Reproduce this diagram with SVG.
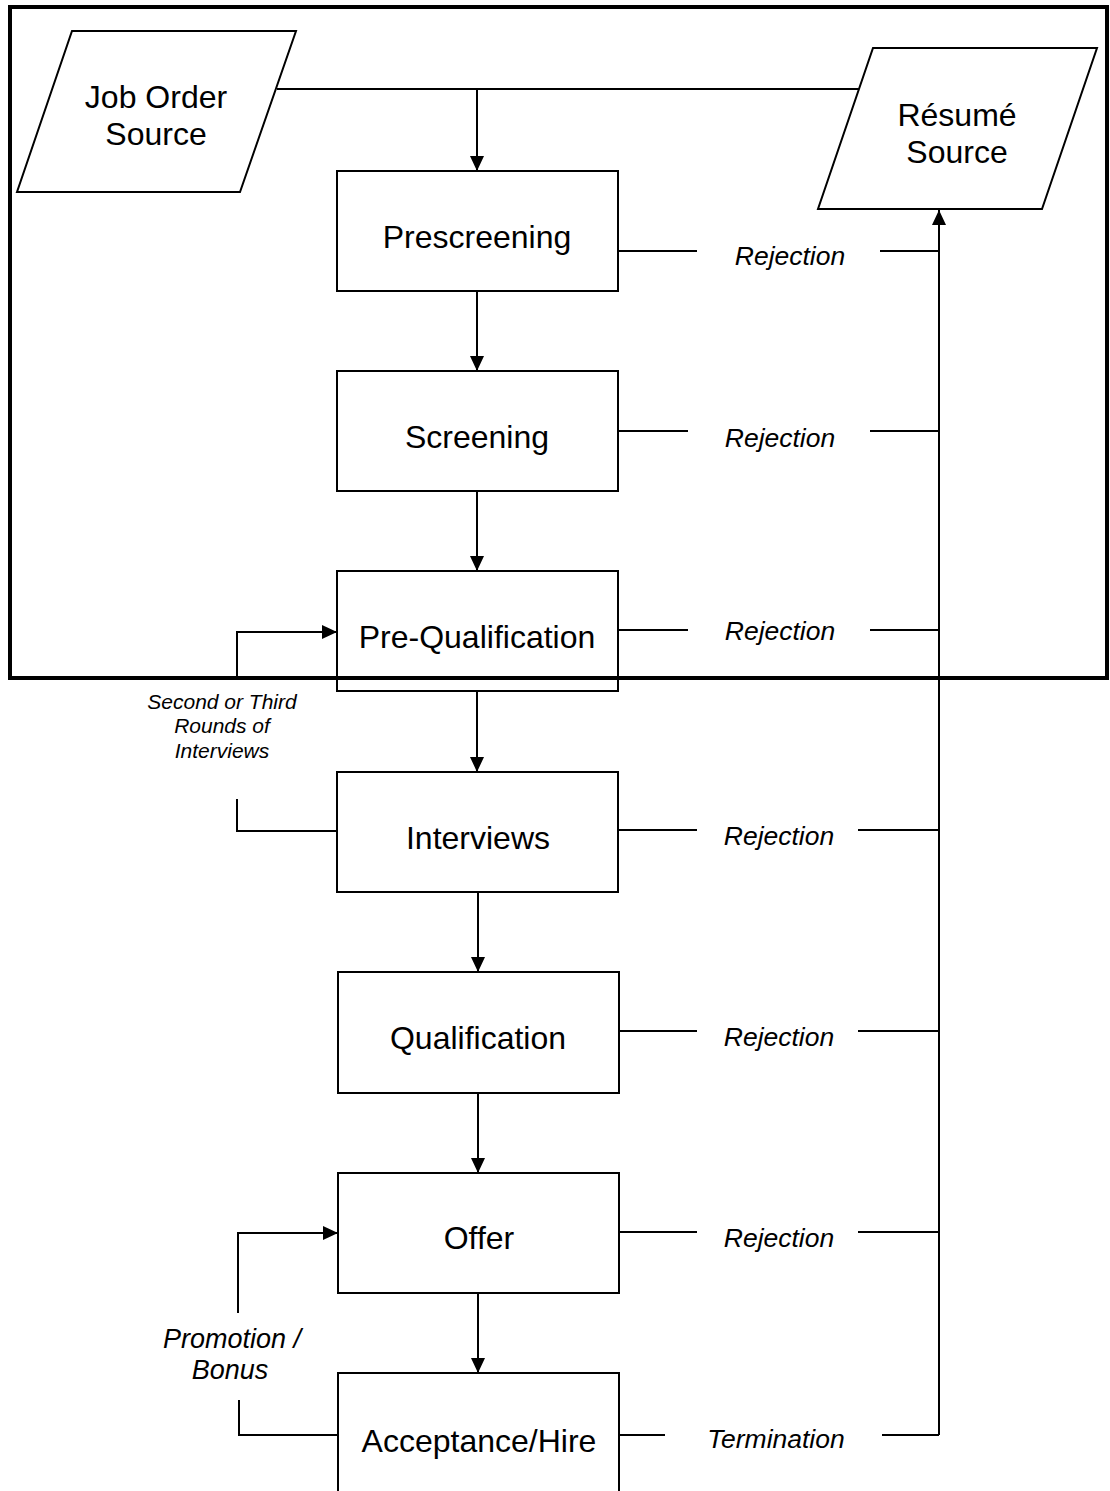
<svg xmlns="http://www.w3.org/2000/svg" width="1110" height="1491" viewBox="0 0 1110 1491">
<style>
.n{fill:#fff;stroke:#000;stroke-width:2}
.t{font-family:"Liberation Sans",Arial,sans-serif;font-size:32px;text-anchor:middle;dominant-baseline:central;fill:#000}
.i{font-family:"Liberation Sans",Arial,sans-serif;font-style:italic;font-size:26.5px;text-anchor:middle;dominant-baseline:central;fill:#000}
.s{font-size:21px}
.p{font-size:27px}
.c{fill:none;stroke:#000;stroke-width:2}
</style>
<defs>
<marker id="a" markerWidth="15" markerHeight="14" refX="15" refY="7" orient="auto" markerUnits="userSpaceOnUse">
<path d="M0,0 L15,7 L0,14 Z" fill="#000"/>
</marker>
</defs>
<rect width="1110" height="1491" fill="#fff"/>
<rect id="frame" x="10" y="7" width="1097" height="671" fill="none" stroke="#000" stroke-width="4"/>
<g id="connectors">
<path class="c" d="M277,89 H860"/>
<path class="c" d="M477,89 V171" marker-end="url(#a)"/>
<path class="c" d="M477,291 V371" marker-end="url(#a)"/>
<path class="c" d="M477,491 V571" marker-end="url(#a)"/>
<path class="c" d="M477,691 V772" marker-end="url(#a)"/>
<path class="c" d="M478,892 V972" marker-end="url(#a)"/>
<path class="c" d="M478,1093 V1173" marker-end="url(#a)"/>
<path class="c" d="M478,1293 V1373" marker-end="url(#a)"/>
<path class="c" d="M939,1435 V210" marker-end="url(#a)"/>
<path class="c" d="M618,251 H697 M880,251 H939"/>
<path class="c" d="M618,431 H688 M870,431 H939"/>
<path class="c" d="M618,630 H688 M870,630 H939"/>
<path class="c" d="M618,830 H697 M858,830 H939"/>
<path class="c" d="M618,1031 H697 M858,1031 H939"/>
<path class="c" d="M619,1232 H697 M858,1232 H939"/>
<path class="c" d="M620,1435 H665 M882,1435 H939"/>
<path class="c" d="M237,676 V632 H337" marker-end="url(#a)"/>
<path class="c" d="M337,831 H237 V799"/>
<path class="c" d="M238,1313 V1233 H338" marker-end="url(#a)"/>
<path class="c" d="M338,1435 H239 V1400"/>
<text class="i" x="790" y="256">Rejection</text>
<text class="i" x="780" y="438">Rejection</text>
<text class="i" x="780" y="631">Rejection</text>
<text class="i" x="779" y="836">Rejection</text>
<text class="i" x="779" y="1037">Rejection</text>
<text class="i" x="779" y="1238">Rejection</text>
<text class="i" x="776" y="1439">Termination</text>
<text class="i s" x="222" y="701">Second or Third</text>
<text class="i s" x="222" y="725">Rounds of</text>
<text class="i s" x="222" y="750">Interviews</text>
<text class="i p" x="232" y="1339">Promotion /</text>
<text class="i p" x="230" y="1370">Bonus</text>
</g>
<g id="job-order-source">
<polygon class="n" points="72,31 296,31 240,192 17,192"/>
<text class="t" x="156" y="97">Job Order</text>
<text class="t" x="156" y="134">Source</text>
</g>
<g id="resume-source">
<polygon class="n" points="873,48 1097,48 1042,209 818,209"/>
<text class="t" x="957" y="115">Résumé</text>
<text class="t" x="957" y="152">Source</text>
</g>
<g id="prescreening"><rect class="n" x="337" y="171" width="281" height="120"/><text class="t" x="477" y="237">Prescreening</text></g>
<g id="screening"><rect class="n" x="337" y="371" width="281" height="120"/><text class="t" x="477" y="437">Screening</text></g>
<g id="pre-qualification"><rect class="n" x="337" y="571" width="281" height="120" fill-opacity="0"/><text class="t" x="477" y="637">Pre-Qualification</text></g>
<g id="interviews"><rect class="n" x="337" y="772" width="281" height="120"/><text class="t" x="478" y="838">Interviews</text></g>
<g id="qualification"><rect class="n" x="338" y="972" width="281" height="121"/><text class="t" x="478" y="1038">Qualification</text></g>
<g id="offer"><rect class="n" x="338" y="1173" width="281" height="120"/><text class="t" x="479" y="1238">Offer</text></g>
<g id="acceptance-hire"><rect class="n" x="338" y="1373" width="281" height="130"/><text class="t" x="479" y="1441">Acceptance/Hire</text></g>
<path d="M10,678 H1107" stroke="#000" stroke-width="4"/>
</svg>
